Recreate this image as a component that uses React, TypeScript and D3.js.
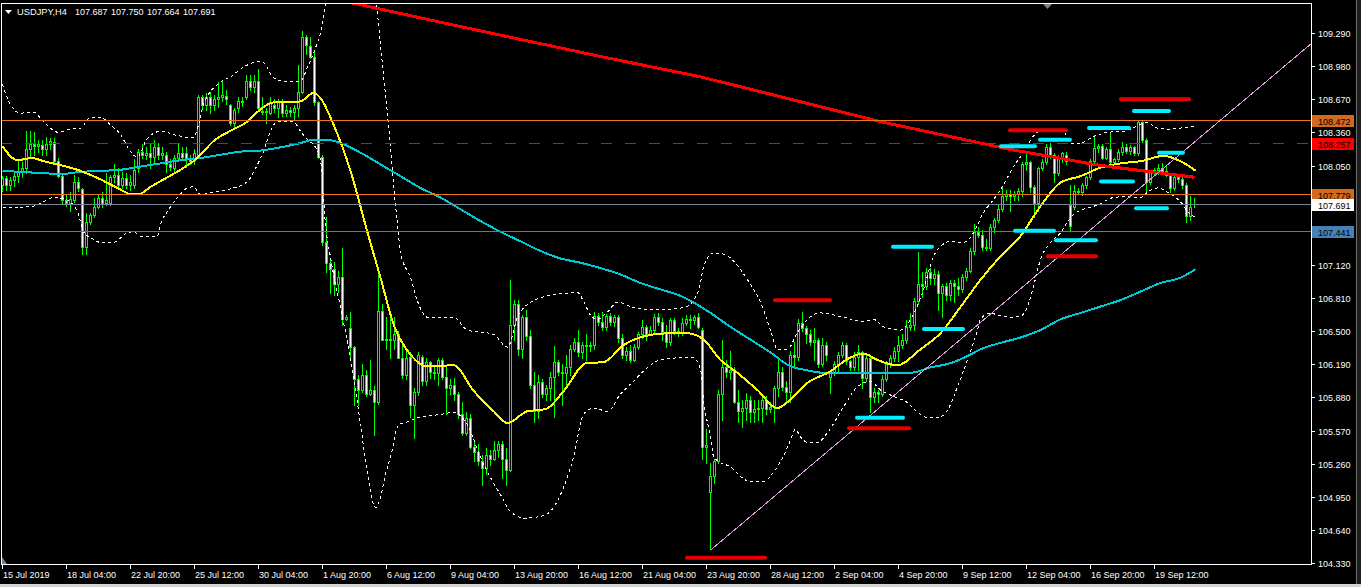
import React from 'react';
import * as d3 from 'd3';

// ---------- DATA (H4 USDJPY, bars indexed from 15 Jul 2019 12:00) ----------
const OPEN = [107.87,107.93,107.87,107.91,107.95,107.99,108.03,108.20,108.25,108.23,
108.24,108.20,108.25,108.27,108.09,107.95,107.73,107.70,107.73,107.90,
107.83,107.29,107.52,107.59,107.66,107.75,107.70,107.70,107.94,107.96,
107.87,107.93,107.87,107.87,108.03,108.18,108.15,108.17,108.13,108.22,
108.15,108.15,108.06,108.03,108.12,108.17,108.17,108.12,108.11,108.15,
108.69,108.62,108.69,108.62,108.67,108.69,108.70,108.62,108.45,108.59,
108.65,108.69,108.84,108.78,108.84,108.56,108.55,108.54,108.62,108.59,
108.65,108.54,108.57,108.55,108.59,108.74,109.25,109.17,109.07,108.64,
108.13,107.33,107.14,107.08,106.94,107.01,106.61,106.53,106.35,106.05,
105.95,106.09,105.91,105.95,105.84,106.69,106.42,106.43,106.42,106.47,
106.25,106.09,106.26,105.81,105.93,106.26,106.03,106.21,106.12,106.11,
106.23,106.07,105.97,106.00,105.91,105.72,105.55,105.69,105.42,105.37,
105.28,105.22,105.34,105.30,105.39,105.44,105.30,105.20,106.56,106.75,
106.33,106.63,106.45,106.00,105.75,106.02,105.91,105.97,106.07,106.21,
106.12,106.11,106.16,106.33,106.40,106.30,106.37,106.36,106.37,106.64,
106.59,106.54,106.64,106.59,106.63,106.44,106.28,106.31,106.23,106.35,
106.47,106.54,106.47,106.51,106.63,106.59,106.49,106.40,106.60,106.50,
106.49,106.58,106.61,106.60,106.63,106.51,105.42,104.99,105.14,105.28,
105.91,106.16,106.12,106.14,105.84,105.75,105.78,105.86,105.74,105.77,
105.78,105.86,105.77,105.79,105.97,106.12,105.98,105.93,106.28,106.26,
106.58,106.53,106.47,106.40,106.42,106.19,106.37,106.07,106.12,106.19,
106.28,106.37,106.22,106.16,106.26,106.30,106.06,106.25,105.88,105.93,
105.91,106.05,106.19,106.25,106.31,106.37,106.42,106.54,106.56,106.78,
106.94,106.92,107.05,107.00,107.03,106.86,106.92,106.84,106.95,106.92,
106.89,107.01,107.06,107.25,107.43,107.40,107.29,107.28,107.47,107.54,
107.64,107.76,107.78,107.76,107.78,107.81,108.06,108.08,107.85,107.70,
108.03,108.08,108.22,108.15,107.98,108.13,108.15,107.68,107.66,107.81,
107.80,107.87,107.94,108.09,108.21,108.23,108.12,108.20,108.08,108.11,
108.18,108.22,108.19,108.22,108.17,108.46,108.29,107.90,107.99,108.01,
108.03,108.00,107.96,107.84,107.94,107.92,107.87,107.58,107.687];

const HIGH = [107.95,107.95,107.94,107.98,108.09,108.08,108.37,108.37,108.36,108.29,
108.29,108.32,108.31,108.31,108.12,107.96,107.77,107.80,107.96,107.94,
107.84,107.61,107.61,107.75,107.78,107.80,107.98,107.96,108.06,108.03,
107.99,107.98,107.96,108.11,108.20,108.25,108.22,108.26,108.29,108.26,
108.22,108.18,108.11,108.15,108.25,108.22,108.22,108.15,108.20,108.71,
108.71,108.73,108.74,108.71,108.83,108.84,108.76,108.63,108.59,108.69,
108.69,108.90,108.90,108.90,108.95,108.69,108.59,108.69,108.67,108.67,
108.67,108.62,108.60,108.62,108.99,109.31,109.27,109.25,109.11,108.65,
108.15,107.57,107.17,107.15,107.06,107.28,106.65,106.68,106.36,106.09,
106.19,106.14,106.23,105.99,107.06,106.75,106.63,106.65,106.63,106.50,
106.37,106.33,106.30,105.97,106.30,106.28,106.25,106.22,106.16,106.25,
106.25,106.16,106.05,106.06,105.93,105.84,105.74,105.72,105.48,105.44,
105.34,105.41,105.39,105.47,105.47,105.47,105.41,106.98,106.79,106.79,
106.65,106.70,106.51,106.12,106.09,106.05,106.00,106.12,106.36,106.23,
106.19,106.28,106.37,106.44,106.51,106.40,106.47,106.40,106.68,106.67,
106.68,106.66,106.67,106.65,106.65,106.47,106.35,106.37,106.38,106.49,
106.60,106.56,106.55,106.66,106.67,106.62,106.56,106.62,106.62,106.53,
106.62,106.65,106.65,106.65,106.67,106.53,105.58,105.27,105.30,105.95,
106.42,106.23,106.31,106.16,105.95,105.86,105.92,105.89,105.86,105.86,
105.89,105.89,105.84,105.99,106.23,106.16,106.03,106.31,106.40,106.61,
106.68,106.55,106.51,106.53,106.44,106.44,106.40,106.14,106.22,106.30,
106.40,106.39,106.23,106.30,106.37,106.31,106.28,106.28,105.97,105.95,
106.09,106.22,106.28,106.35,106.45,106.47,106.60,106.67,106.81,107.24,
107.05,107.09,107.09,107.08,107.06,106.94,106.95,106.98,106.98,107.00,
107.03,107.09,107.28,107.50,107.47,107.45,107.36,107.50,107.56,107.68,
107.85,107.82,107.82,107.81,107.84,108.08,108.17,108.09,107.87,108.04,
108.11,108.25,108.26,108.17,108.15,108.18,108.18,107.87,107.87,107.84,
107.89,107.95,108.11,108.34,108.25,108.25,108.22,108.36,108.12,108.20,
108.27,108.25,108.24,108.23,108.48,108.48,108.31,108.01,108.03,108.06,
108.07,108.05,107.98,107.96,107.95,107.94,107.89,107.76,107.750];

const LOW = [107.81,107.82,107.82,107.86,107.90,107.94,107.98,108.13,108.15,108.18,
108.15,108.15,108.20,108.08,107.94,107.70,107.67,107.62,107.71,107.81,
107.22,107.22,107.50,107.57,107.65,107.66,107.68,107.68,107.90,107.84,
107.84,107.84,107.82,107.84,107.99,108.12,108.11,108.03,108.06,108.11,
108.11,107.99,108.01,107.98,108.09,108.11,108.04,108.06,108.06,108.13,
108.59,108.57,108.54,108.57,108.60,108.65,108.63,108.43,108.41,108.55,
108.61,108.67,108.76,108.74,108.57,108.53,108.45,108.53,108.55,108.50,
108.51,108.51,108.51,108.48,108.51,108.73,109.09,109.06,108.62,108.12,
107.31,107.05,106.86,106.84,106.87,106.56,106.60,106.25,105.81,105.81,
105.93,105.89,105.90,105.53,105.82,106.42,106.33,106.25,106.33,106.25,
106.06,106.05,105.70,105.50,105.90,106.00,106.00,106.06,106.05,106.00,
106.05,105.72,105.91,105.86,105.69,105.53,105.53,105.41,105.28,105.25,
105.06,105.16,105.25,105.29,105.32,105.13,105.06,105.19,106.42,106.28,
106.25,106.42,105.97,105.65,105.69,105.88,105.86,105.86,105.70,106.09,
105.81,105.97,106.09,106.31,106.27,106.25,106.23,106.31,106.33,106.56,
106.51,106.51,106.56,106.55,106.40,106.25,106.23,106.21,106.22,106.33,
106.44,106.42,106.46,106.47,106.56,106.42,106.35,106.37,106.47,106.45,
106.46,106.56,106.53,106.57,106.53,105.30,105.27,104.46,105.08,105.27,
105.67,106.07,106.05,105.83,105.65,105.60,105.67,105.65,105.65,105.67,
105.65,105.72,105.74,105.65,105.89,105.95,105.84,105.84,106.17,106.23,
106.50,106.39,106.37,106.23,106.16,106.17,106.23,105.92,106.09,106.11,
106.26,106.19,106.14,106.14,106.14,105.97,106.03,105.74,105.84,105.84,
105.89,106.03,106.16,106.22,106.22,106.34,106.39,106.51,106.51,106.75,
106.82,106.89,106.94,106.94,106.70,106.63,106.79,106.79,106.77,106.84,
106.87,106.98,107.05,107.22,107.38,107.26,107.26,107.26,107.43,107.52,
107.62,107.73,107.62,107.73,107.73,107.76,108.01,107.80,107.57,107.62,
108.01,108.06,108.12,107.90,107.96,108.08,108.06,107.45,107.64,107.78,
107.77,107.84,107.92,108.08,108.18,108.11,108.11,108.06,108.06,108.09,
108.15,108.17,108.16,108.15,108.15,108.27,107.80,107.88,107.96,107.97,
107.98,107.95,107.80,107.82,107.90,107.84,107.52,107.54,107.664];

const CLOSE = [107.93,107.87,107.91,107.95,107.99,108.03,108.20,108.25,108.23,108.25,
108.20,108.25,108.28,108.09,107.95,107.73,107.70,107.74,107.90,107.84,
107.29,107.52,107.59,107.66,107.75,107.70,107.73,107.94,107.96,107.87,
107.93,107.87,107.90,108.01,108.18,108.15,108.17,108.13,108.22,108.15,
108.17,108.06,108.04,108.12,108.17,108.13,108.12,108.09,108.17,108.69,
108.62,108.69,108.62,108.67,108.69,108.71,108.67,108.45,108.57,108.65,
108.64,108.84,108.78,108.84,108.59,108.55,108.56,108.64,108.59,108.65,
108.54,108.57,108.55,108.59,108.74,109.25,109.18,109.07,108.64,108.13,
107.33,107.14,107.08,106.94,107.01,106.61,106.63,106.35,106.05,105.95,
106.09,105.91,105.95,105.84,106.69,106.42,106.43,106.42,106.47,106.25,
106.09,106.25,105.81,105.93,106.28,106.03,106.21,106.12,106.11,106.23,
106.07,105.97,106.00,105.91,105.72,105.55,105.69,105.42,105.37,105.28,
105.22,105.34,105.30,105.39,105.44,105.30,105.20,106.56,106.75,106.33,
106.63,106.45,106.00,105.75,106.02,105.91,105.97,106.07,106.21,106.12,
106.11,106.16,106.33,106.40,106.30,106.37,106.36,106.37,106.64,106.59,
106.54,106.64,106.59,106.63,106.44,106.28,106.31,106.23,106.35,106.47,
106.54,106.47,106.51,106.63,106.59,106.49,106.40,106.60,106.50,106.49,
106.58,106.61,106.60,106.63,106.54,105.42,105.43,105.14,105.28,105.91,
106.16,106.12,106.14,105.84,105.75,105.78,105.86,105.74,105.77,105.78,
105.86,105.77,105.79,105.97,106.12,105.98,105.93,106.28,106.26,106.58,
106.53,106.47,106.40,106.42,106.19,106.37,106.28,106.12,106.19,106.28,
106.37,106.22,106.16,106.26,106.30,106.06,106.25,105.88,105.93,105.91,
106.05,106.19,106.25,106.31,106.37,106.42,106.54,106.56,106.78,106.94,
106.92,107.05,107.00,107.03,106.86,106.92,106.84,106.95,106.92,106.89,
107.01,107.06,107.25,107.43,107.40,107.29,107.28,107.47,107.54,107.64,
107.76,107.78,107.76,107.78,107.81,108.06,108.08,107.85,107.70,108.03,
108.08,108.22,108.15,107.98,108.13,108.17,108.09,107.48,107.81,107.80,
107.87,107.94,108.09,108.21,108.23,108.12,108.20,108.08,108.11,108.18,
108.22,108.19,108.22,108.17,108.46,108.29,107.90,107.99,108.01,108.03,
108.00,107.96,107.84,107.94,107.92,107.87,107.58,107.66,107.691];

// indicator lines: [bar index, price]
const MA_FAST: [number, number][] = [[0,108.23],[3.7,108.10],[7.4,108.12],[10.3,108.09],[13.7,108.06],[18.7,108.01],[24.5,107.92],[28.7,107.84],[32.4,107.78],[34,107.78],[37,107.85],[40.3,107.92],[44.5,108.01],[48.7,108.12],[52.8,108.28],[57.8,108.39],[61.2,108.46],[63.7,108.55],[67.8,108.64],[70.3,108.64],[74.5,108.65],[77.8,108.73],[79.5,108.68],[82.8,108.43],[87,108.00],[91.2,107.43],[94.5,107.00],[97.8,106.56],[102,106.28],[106.2,106.17],[112.8,106.18],[117.8,105.94],[122.8,105.75],[126.2,105.64],[131.2,105.75],[135.8,105.77],[140.3,105.94],[146,106.20],[150.3,106.21],[155.3,106.37],[160.3,106.45],[166.2,106.48],[171.2,106.48],[175.3,106.42],[179.5,106.23],[183.7,106.11],[188.7,105.95],[193.7,105.78],[197,105.86],[201,106.01],[206.8,106.12],[211.8,106.25],[215.3,106.29],[218.7,106.23],[223.7,106.18],[229.5,106.33],[234.5,106.48],[239,106.70],[244.5,106.98],[249.5,107.20],[254.5,107.39],[259.5,107.67],[264.5,107.89],[269.5,107.95],[274.5,108.03],[279.5,108.07],[284.5,108.09],[290.3,108.14],[294.5,108.09],[298.3,108.00]];

const MA_SLOW: [number, number][] = [[0,108.00],[4.5,107.99],[9.5,107.98],[14.5,107.97],[19.5,107.99],[24.5,108.00],[29.5,108.01],[34.5,108.04],[39.5,108.07],[44.5,108.10],[49.5,108.12],[54.5,108.15],[59.5,108.18],[64.5,108.19],[69.5,108.22],[74.5,108.26],[77.8,108.29],[81.2,108.29],[84.5,108.26],[89.5,108.17],[94.5,108.06],[99.5,107.95],[104.5,107.84],[109.5,107.75],[114.5,107.64],[119.5,107.53],[124.5,107.43],[129.5,107.34],[134.5,107.25],[139.5,107.18],[144.5,107.14],[149.5,107.09],[154.5,107.03],[159.5,106.95],[164.5,106.89],[169.5,106.83],[174.5,106.73],[177,106.67],[182,106.54],[187,106.42],[192,106.30],[197,106.17],[200.3,106.14],[205.3,106.11],[213.7,106.11],[222,106.11],[227,106.11],[232,106.16],[237,106.20],[242,106.28],[244.5,106.33],[249.5,106.39],[254.5,106.44],[259.5,106.51],[264.5,106.61],[269.5,106.67],[274.5,106.73],[279.5,106.79],[284.5,106.87],[289.5,106.95],[294.5,107.00],[298.3,107.08]];

const MA_RED: [number, number][] = [[80,109.63],[88.25,109.565],[112,109.37],[149.5,109.07],[174.5,108.88],[219.5,108.46],[252,108.20],[274.5,108.05],[298,107.94]];

const BB_UPPER: [number, number][] = [[0,108.81],[2,108.62],[4.5,108.54],[7.75,108.55],[10.25,108.46],[14,108.36],[17,108.39],[19.5,108.40],[22,108.50],[24.5,108.50],[27,108.43],[29.5,108.34],[32,108.18],[33.75,108.13],[36,108.29],[39.5,108.37],[43.75,108.33],[47.75,108.31],[49,108.43],[50.25,108.62],[54.5,108.83],[57,108.88],[60.25,108.97],[63.75,109.02],[65.25,109.01],[67.75,108.87],[70.25,108.84],[74.5,108.84],[76.25,108.97],[78.25,109.15],[79.5,109.29],[81,109.60],[84.5,109.98],[88.25,110.12],[91.5,109.88],[93.5,109.57],[94,109.37],[95.25,108.90],[96.5,108.43],[97.75,107.87],[98.75,107.50],[99.5,107.24],[102,107.00],[103.75,106.78],[106.25,106.63],[112.75,106.63],[116.25,106.51],[122.75,106.47],[126.25,106.35],[128.75,106.63],[131.25,106.75],[137.75,106.84],[143.75,106.86],[145.25,106.78],[147,106.65],[148.75,106.61],[151.25,106.68],[153.75,106.77],[157.75,106.72],[162.75,106.70],[170.25,106.72],[172.75,106.79],[174.5,106.95],[175.25,107.10],[177.75,107.23],[180.25,107.22],[186.25,106.98],[189.5,106.77],[192,106.51],[193.75,106.33],[196.25,106.33],[198.75,106.49],[201.25,106.61],[204.5,106.67],[210.25,106.63],[215.25,106.59],[217.75,106.61],[220.25,106.54],[224.5,106.51],[227,106.61],[230.25,106.89],[232.75,107.20],[234.5,107.29],[237,107.34],[240.25,107.33],[242.75,107.42],[245.25,107.61],[247.75,107.73],[250.25,107.87],[252.75,108.04],[254.5,108.13],[258.75,108.36],[262,108.39],[265.25,108.37],[267,108.26],[269.5,108.26],[272.75,108.32],[276.25,108.36],[280.25,108.37],[286.25,108.45],[288.75,108.40],[291.25,108.39],[294.5,108.40],[298,108.42]];

const BB_LOWER: [number, number][] = [[0,107.66],[3.75,107.66],[7.75,107.67],[10.25,107.71],[12.75,107.75],[15.25,107.74],[18.75,107.62],[20.25,107.43],[22.75,107.36],[24.5,107.33],[27.75,107.33],[31.25,107.42],[32.75,107.43],[34.5,107.39],[38.75,107.39],[39.5,107.50],[41.25,107.62],[43.75,107.75],[46.25,107.84],[47.75,107.85],[49.5,107.78],[52.75,107.80],[57.75,107.84],[61.25,107.90],[63.75,108.06],[65.25,108.18],[67,108.37],[68.75,108.46],[72.75,108.46],[74.5,108.37],[76.25,108.29],[78.25,108.22],[79.5,108.10],[80.75,107.50],[82,107.19],[84.5,106.72],[87,106.25],[89.5,105.63],[91.25,105.16],[93.25,104.85],[94.5,104.94],[95.75,105.16],[97,105.32],[99,105.62],[101.25,105.65],[103.75,105.69],[109.5,105.72],[112.75,105.74],[116.25,105.62],[119.5,105.32],[122,105.13],[124.5,104.97],[127,104.81],[130.75,104.75],[135.75,104.78],[138.25,104.88],[139.5,104.97],[142.75,105.32],[145.25,105.72],[147.75,105.78],[151.25,105.75],[154.5,105.91],[157.75,106.03],[161.25,106.16],[164.5,106.23],[169.5,106.25],[172.75,106.25],[174.5,106.14],[175.25,105.86],[177,105.51],[177.75,105.33],[179.5,105.27],[182,105.23],[184.5,105.14],[187,105.09],[190.25,105.09],[192.75,105.18],[195.25,105.33],[197,105.48],[198.25,105.58],[199.5,105.51],[201.25,105.46],[203.75,105.46],[206.25,105.55],[210.25,105.79],[213.75,105.98],[217,106.03],[219.5,105.95],[222.75,105.89],[226.25,105.83],[228.75,105.74],[231.25,105.69],[233.75,105.69],[236.25,105.76],[238.75,105.98],[241.25,106.23],[243.75,106.51],[244.5,106.61],[247,106.67],[248.75,106.65],[252,106.63],[254.5,106.64],[256.25,106.73],[257.75,106.92],[259.5,107.17],[262,107.33],[264.5,107.42],[266.25,107.52],[267.75,107.59],[270.25,107.64],[273.75,107.68],[277.75,107.75],[281.25,107.76],[284.5,107.75],[286.25,107.80],[288.75,107.84],[291.25,107.80],[294.5,107.71],[297,107.59],[298.25,107.57]];

// horizontal price levels
const LEVEL_PRICES = [108.472, 108.257, 107.779, 107.691, 107.441];
const LEVEL_KIND = ['orange', 'reddash', 'orange', 'bid', 'blue'];

// trend line anchors [bar, price]
const TREND: [number, number][] = [[177, 104.45], [260, 107.07]];

// short marker segments: [fromBar, toBar, price]
const RED_MARKS: [number, number, number][] = [[193.25,207,106.79],[211.75,226.75,105.59],[171.25,190.75,104.38],[252,266,108.38],[261.5,273.5,107.20],[279.75,296.75,108.67]];
const CYAN_MARKS: [number, number, number][] = [[222.75,232.5,107.29],[230.5,240.25,106.52],[213.75,225.25,105.69],[249.75,258.25,108.23],[259.5,267,108.29],[253.25,263,107.44],[263.5,273.5,107.35],[271.75,281.75,108.40],[274.75,282.75,107.90],[283,291.75,108.56],[283.5,291.25,107.65],[289.25,295.25,108.17]];

// axes & title
const Y_TICKS = [109.29,108.98,108.67,108.36,108.05,107.74,107.43,107.12,106.81,106.50,106.19,105.88,105.57,105.26,104.95,104.64,104.33];
const X_TICK_BARS = [0,16,32,48,64,80,96,112,128,144,160,176,192,208,224,240,256,272,288];
const X_TICK_LABELS = ['15 Jul 2019','18 Jul 04:00','22 Jul 20:00','25 Jul 12:00','30 Jul 04:00','1 Aug 20:00','6 Aug 12:00','9 Aug 04:00','13 Aug 20:00','16 Aug 12:00','21 Aug 04:00','23 Aug 20:00','28 Aug 12:00','2 Sep 04:00','4 Sep 20:00','9 Sep 12:00','12 Sep 04:00','16 Sep 20:00','19 Sep 12:00'];
const SYMBOL = 'USDJPY,H4';
const QUOTE = [107.687, 107.750, 107.664, 107.691];

// ---------- LAYOUT ----------
const W = 1361, H = 587;
const PL = 1, PT = 3, PR = 1311, PB = 564;
const FONT = "'Liberation Sans', Arial, sans-serif";

const x = d3.scaleLinear().domain([0, 298]).range([2, 1194]);
const y = d3.scaleLinear().domain([104.33, 109.29]).range([563, 33]);

const LIME = '#00ff00';

export default function App() {
  const curve = d3.line<[number, number]>().x(d => x(d[0]) + 0.5).y(d => y(d[1])).curve(d3.curveMonotoneX);
  const straight = d3.line<[number, number]>().x(d => x(d[0]) + 0.5).y(d => y(d[1]));

  const candles = OPEN.map((o, i) => {
    const c = CLOSE[i];
    const h = Math.max(HIGH[i], o, c);
    const l = Math.min(LOW[i], o, c);
    const cx = Math.round(x(i));
    const top = Math.round(y(Math.max(o, c)));
    const bot = Math.round(y(Math.min(o, c)));
    const yh = Math.round(y(h));
    const yl = Math.round(y(l));
    const bear = c < o;
    return (
      <g key={i}>
        <line x1={cx + 0.5} x2={cx + 0.5} y1={yh} y2={yl + 1} stroke={LIME} strokeWidth={1} />
        {bot - top < 1 ? (
          <line x1={cx - 1} x2={cx + 2} y1={top + 0.5} y2={top + 0.5} stroke={LIME} strokeWidth={1} />
        ) : (
          <rect x={cx - 0.5} y={top + 0.5} width={2} height={bot - top} fill={bear ? '#ffffff' : '#000000'} stroke={LIME} strokeWidth={1} />
        )}
      </g>
    );
  });

  // trend ray extended to the right edge
  const slope = (TREND[1][1] - TREND[0][1]) / (TREND[1][0] - TREND[0][0]);
  const endBar = x.invert(PR);
  const trendEnd: [number, number] = [endBar, TREND[0][1] + slope * (endBar - TREND[0][0])];

  const levelStyle: Record<string, { line: string; box: string; dash?: string }> = {
    orange: { line: '#e8731e', box: '#d2691e' },
    reddash: { line: '#ff0000', box: '#ff0000', dash: '11,13' },
    bid: { line: '#778899', box: '#ffffff' },
    blue: { line: '#4682b4', box: '#4682b4' },
  };

  const levelYs = LEVEL_PRICES.map(p => Math.round(y(p)));

  return (
    <svg width={W} height={H} style={{ position: 'absolute', left: 0, top: 0, display: 'block' }} fontFamily={FONT}>
      <defs>
        <clipPath id="plotclip">
          <rect x={PL + 1} y={PT + 1} width={PR - PL - 1} height={PB - PT - 1} />
        </clipPath>
      </defs>
      <rect x={0} y={0} width={W} height={H} fill="#000" />

      <g clipPath="url(#plotclip)" shapeRendering="crispEdges">
        {candles}

        {/* Bollinger bands */}
        <path d={curve(BB_UPPER) || ''} fill="none" stroke="#ffffff" strokeWidth={1} strokeDasharray="3,3" />
        <path d={curve(BB_LOWER) || ''} fill="none" stroke="#ffffff" strokeWidth={1} strokeDasharray="3,3" />

        {/* moving averages */}
        <path d={curve(MA_SLOW) || ''} fill="none" stroke="#00c8d4" strokeWidth={2} />
        <path d={curve(MA_FAST) || ''} fill="none" stroke="#ffff00" strokeWidth={2} />
        <path d={straight(MA_RED) || ''} fill="none" stroke="#ff0000" strokeWidth={3} />

        {/* horizontal levels */}
        {LEVEL_PRICES.map((p, k) => {
          const st = levelStyle[LEVEL_KIND[k]];
          const yy = levelYs[k] + 0.5;
          return <line key={k} x1={PL} x2={PR} y1={yy} y2={yy} stroke={st.line} strokeWidth={1} strokeDasharray={st.dash} />;
        })}

        {/* trend line */}
        <path d={straight([TREND[0], trendEnd]) || ''} fill="none" stroke="#dda0dd" strokeWidth={1} />

        {/* marker segments */}
        {RED_MARKS.map(([a, b, p], k) => (
          <line key={'r' + k} x1={x(a)} x2={x(b)} y1={y(p)} y2={y(p)} stroke="#e60000" strokeWidth={4} strokeLinecap="round" shapeRendering="auto" />
        ))}
        {CYAN_MARKS.map(([a, b, p], k) => (
          <line key={'c' + k} x1={x(a)} x2={x(b)} y1={y(p)} y2={y(p)} stroke="#00eeff" strokeWidth={4} strokeLinecap="round" shapeRendering="auto" />
        ))}
      </g>

      {/* frame */}
      <rect x={PL + 0.5} y={PT + 0.5} width={PR - PL} height={PB - PT} fill="none" stroke="#ffffff" strokeWidth={1} shapeRendering="crispEdges" />

      {/* shift markers */}
      <path d="M1043,4 L1052,4 L1047.5,9 Z" fill="#808080" />
      <path d="M2,557 L2,564 L7,564 Z" fill="#708090" />

      {/* title */}
      <path d="M5,10 L12,10 L8.5,14 Z" fill="#ffffff" />
      <text x={17} y={15} fill="#ffffff" fontSize={9.3}>{SYMBOL}</text>
      {QUOTE.map((q, k) => (
        <text key={k} x={75 + 36 * k} y={15} fill="#ffffff" fontSize={9}>{q.toFixed(3)}</text>
      ))}

      {/* y axis */}
      <g shapeRendering="crispEdges">
        {Y_TICKS.map((t, k) => {
          const yy = Math.round(y(t)) + 0.5;
          const hidden = levelYs.some(ly => Math.abs(ly - yy) < 9);
          return (
            <g key={k}>
              <line x1={PR} x2={PR + 4} y1={yy} y2={yy} stroke="#ffffff" />
              {!hidden && (
                <text x={1318} y={yy + 3.5} fill="#ffffff" fontSize={9}>{t.toFixed(3)}</text>
              )}
            </g>
          );
        })}
      </g>

      {/* level boxes */}
      {LEVEL_PRICES.map((p, k) => {
        const st = levelStyle[LEVEL_KIND[k]];
        const yy = levelYs[k];
        return (
          <g key={'b' + k}>
            <rect x={1312} y={yy - 5} width={42} height={12} fill={st.box} shapeRendering="crispEdges" />
            <text x={1318} y={yy + 4.5} fill="#000000" fontSize={9}>{p.toFixed(3)}</text>
          </g>
        );
      })}

      {/* x axis */}
      <g shapeRendering="crispEdges">
        {X_TICK_BARS.map((b, k) => {
          const xx = Math.round(x(b)) + 0.5;
          return (
            <g key={k}>
              <line x1={xx} x2={xx} y1={PB} y2={PB + 5} stroke="#ffffff" />
              <text x={xx + 0.5} y={578} fill="#ffffff" fontSize={9}>{X_TICK_LABELS[k]}</text>
            </g>
          );
        })}
      </g>

      {/* window edges */}
      <line x1={1356.5} x2={1356.5} y1={0} y2={H} stroke="#6e6e6e" shapeRendering="crispEdges" />
      <rect x={1357} y={0} width={4} height={H} fill="#1e1e1e" />
      <rect x={0} y={584} width={W} height={3} fill="#d4d4d4" />
    </svg>
  );
}
